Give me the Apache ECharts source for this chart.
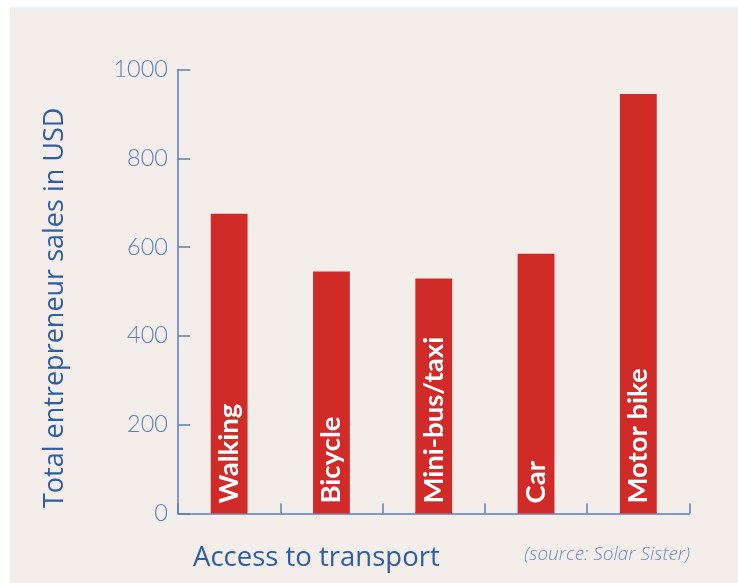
<!DOCTYPE html>
<html>
<head>
<meta charset="utf-8">
<script src="https://cdn.jsdelivr.net/npm/echarts@6/dist/echarts.min.js"></script>
<style>
html,body{margin:0;padding:0;background:#ffffff;}
#c{width:738px;height:583px;}
</style>
</head>
<body>
<div id="c"></div>
<script>
const categories = ['Walking', 'Bicycle', 'Mini-bus/taxi', 'Car', 'Motor bike'];
const sales = [675, 545, 529, 585, 945];
const yTicks = [0, 200, 400, 600, 800, 1000];
const yAxisTitle = 'Total entrepreneur sales in USD';
const xAxisTitle = 'Access to transport';
const sourceNote = '(source: Solar Sister)';

const axisBlue = '#5b7dbb';
const labelBlue = '#5e80c0';
const titleBlue = '#2f5da5';

const chart = echarts.init(document.getElementById('c'), null, {renderer: 'canvas'});
chart.setOption({
  animation: false,
  backgroundColor: '#ffffff',
  graphic: [
    {type: 'rect', z: -10, silent: true, shape: {x: 10, y: 7, width: 728, height: 576}, style: {fill: '#f3eeea'}},
    {type: 'text', left: 193, top: 544, style: {text: xAxisTitle, fill: titleBlue, font: '400 27.5px "Open Sans"'}},
    {type: 'text', right: 48, top: 545, style: {text: sourceNote, fill: '#6f8bc6', font: 'italic 300 19px "Open Sans"'}},
    {type: 'text', x: 42, y: 508, rotation: Math.PI / 2, style: {text: yAxisTitle, fill: titleBlue, font: '400 27px "Open Sans"', textVerticalAlign: 'top'}}
  ],
  grid: {left: 178, right: 48.5, top: 69.5, bottom: 69.5, containLabel: false},
  xAxis: {
    type: 'category',
    data: categories,
    axisLine: {show: true, lineStyle: {color: axisBlue, width: 1.5}},
    axisTick: {show: true, inside: true, length: 10, lineStyle: {color: axisBlue, width: 1.5}},
    axisLabel: {show: false},
    splitLine: {show: false}
  },
  yAxis: {
    type: 'value',
    min: 0, max: 1000, interval: 200,
    axisLine: {show: true, lineStyle: {color: axisBlue, width: 1.5}},
    axisTick: {show: true, inside: true, length: 12, lineStyle: {color: axisBlue, width: 1.5}},
    axisLabel: {
      color: labelBlue, fontFamily: 'Lato', fontWeight: 300, fontSize: 23.5, margin: 10,
      formatter: v => yTicks.includes(v) ? String(v) : ''
    },
    splitLine: {show: false}
  },
  series: [{
    type: 'bar',
    data: sales,
    barWidth: '36%',
    itemStyle: {color: '#d02b29'},
    label: {
      show: true,
      formatter: '{b}',
      position: 'insideBottom',
      rotate: 90,
      align: 'left',
      verticalAlign: 'middle',
      distance: 10,
      color: '#ffffff',
      fontFamily: 'Lato',
      fontWeight: 'bold',
      fontSize: 27.5
    }
  }]
});
</script>
</body>
</html>
